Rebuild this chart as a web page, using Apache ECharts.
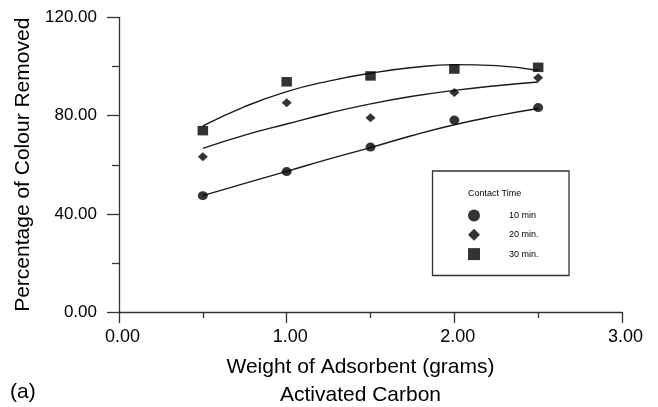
<!DOCTYPE html>
<html>
<head>
<meta charset="utf-8">
<script src="https://cdn.jsdelivr.net/npm/echarts@6/dist/echarts.min.js"></script>
<style>
  html, body { margin: 0; padding: 0; background: #fff; }
  #chart { width: 658px; height: 407px; }
</style>
</head>
<body>
<div id="chart"></div>
<script>
// Adsorbent dose (g) and measured colour removal (%) for each contact time
const doses = [0.5, 1.0, 1.5, 2.0, 2.5];
const removal10 = [47.4, 57.2, 67.2, 78.2, 83.3];
const removal20 = [63.3, 85.3, 79.2, 89.4, 95.4];
const removal30 = [73.9, 93.8, 96.2, 99.0, 99.7];

// Fitted trend curves, sampled along the dose range
const fitDoses = [0.5, 0.75, 1.0, 1.25, 1.5, 1.75, 2.0, 2.25, 2.5];
const fit10 = [47.4, 52.4, 57.3, 62.3, 67.0, 71.9, 76.3, 79.9, 82.9];
const fit20 = [66.7, 72.1, 76.6, 81.0, 84.8, 87.9, 90.3, 92.2, 93.7];
const fit30 = [75.8, 83.7, 89.8, 94.1, 97.3, 99.6, 100.8, 100.4, 98.4];

const seriesNames = ['10 min', '20 min.', '30 min.'];
const xTicks = { min: 0, max: 3, step: 1 };
const yTicks = { min: 0, max: 120, step: 40 };

const FONT = '"Liberation Sans", Arial, Helvetica, sans-serif';
const INK = '#000';
const AXIS = '#333';

const pair = (xs, ys) => xs.map((x, i) => [x, ys[i]]);

const chart = echarts.init(document.getElementById('chart'), null, { renderer: 'canvas' });

const scatter = (name, symbol, size, ys) => ({
  name, type: 'scatter', symbol, symbolSize: size,
  itemStyle: { color: INK }, data: pair(doses, ys), z: 3
});
const curve = (ys) => ({
  type: 'line', smooth: true, showSymbol: false, silent: true,
  lineStyle: { color: '#1a1a1a', width: 1.4 }, data: pair(fitDoses, ys), z: 2
});

chart.setOption({
  animation: false,
  backgroundColor: '#fff',
  grid: { left: 119, right: 36, top: 17.5, bottom: 95, containLabel: false, outerBoundsMode: 'none' },
  xAxis: {
    type: 'value', min: xTicks.min, max: xTicks.max, interval: xTicks.step,
    name: 'Weight of Adsorbent (grams)\nActivated Carbon',
    nameLocation: 'middle', nameGap: 41,
    nameTextStyle: { fontFamily: FONT, fontSize: 21, color: INK, lineHeight: 28, padding: [0, 20, 0, 0] },
    axisLine: { lineStyle: { color: AXIS, width: 1.3 } },
    axisTick: { length: 11, lineStyle: { color: AXIS, width: 1.3 } },
    minorTick: { show: true, splitNumber: 2, length: 6, lineStyle: { color: AXIS, width: 1.3 } },
    splitLine: { show: false }, minorSplitLine: { show: false },
    axisLabel: {
      fontFamily: FONT, fontSize: 18, color: INK, margin: 16, padding: [0, 0, 0, 7],
      formatter: v => v.toFixed(2)
    }
  },
  yAxis: {
    type: 'value', min: yTicks.min, max: yTicks.max, interval: yTicks.step,
    name: 'Percentage of Colour Removed',
    nameLocation: 'middle', nameGap: 84, nameRotate: 90,
    nameTextStyle: { fontFamily: FONT, fontSize: 21, color: INK },
    axisLine: { show: true, lineStyle: { color: AXIS, width: 1.3 } },
    axisTick: { show: true, length: 12, lineStyle: { color: AXIS, width: 1.3 } },
    minorTick: { show: true, splitNumber: 2, length: 7, lineStyle: { color: AXIS, width: 1.3 } },
    splitLine: { show: false }, minorSplitLine: { show: false },
    axisLabel: { fontFamily: FONT, fontSize: 17, color: INK, margin: 22, formatter: v => v.toFixed(2) }
  },
  legend: {
    data: [
      { name: seriesNames[0], icon: 'circle' },
      { name: seriesNames[1], icon: 'diamond' },
      { name: seriesNames[2], icon: 'rect' }
    ],
    orient: 'vertical', left: 468, top: 209.5,
    itemWidth: 12, itemHeight: 12, itemGap: 7.3, padding: 0,
    selectedMode: false,
    textStyle: { fontFamily: FONT, fontSize: 9, color: INK, padding: [0, 0, 0, 24] }
  },
  graphic: [
    {
      type: 'rect', shape: { x: 432.5, y: 171, width: 136.5, height: 104.5 },
      style: { fill: 'none', stroke: AXIS, lineWidth: 1.3 }, z: 10
    },
    {
      type: 'text', x: 468, y: 194,
      style: { text: 'Contact Time', font: '9px ' + FONT, fill: INK, textVerticalAlign: 'middle' }, z: 10
    },
    {
      type: 'text', x: 10, y: 392,
      style: { text: '(a)', font: '21px ' + FONT, fill: INK, textVerticalAlign: 'middle' }, z: 10
    }
  ],
  series: [
    curve(fit10), curve(fit20), curve(fit30),
    scatter(seriesNames[0], 'circle', [10, 9], removal10),
    scatter(seriesNames[1], 'diamond', [10, 9], removal20),
    scatter(seriesNames[2], 'rect', [10.5, 9.5], removal30)
  ]
});
</script>
</body>
</html>
